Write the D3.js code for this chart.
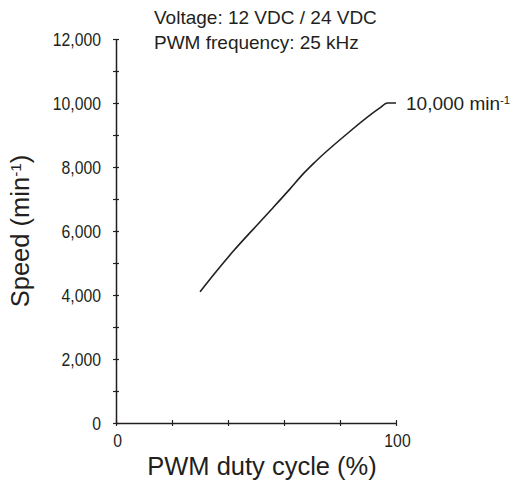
<!DOCTYPE html>
<html>
<head>
<meta charset="utf-8">
<script src="https://cdn.jsdelivr.net/npm/d3@7"></script>
<style>
  html, body { margin: 0; padding: 0; background: #fff; }
  .tick-label { font-family: "Liberation Sans", Arial, sans-serif; font-size: 19px; fill: #231f20; }
  .note { font-family: "Liberation Sans", Arial, sans-serif; font-size: 19px; fill: #231f20; }
  .axis-title { font-family: "Liberation Sans", Arial, sans-serif; font-size: 25.5px; fill: #231f20; }
</style>
</head>
<body>
<div id="chart"></div>
<script>
// Данные кривой: скважность ШИМ (%) -> скорость (min-1)
const dutyCycle = [30, 35, 42, 50, 56, 62, 67, 71, 82, 94, 97, 100];
const speed = [4100, 4650, 5380, 6150, 6720, 7300, 7800, 8150, 9000, 9830, 10000, 10000];

// Деления осей
const xTicks = [0, 20, 40, 60, 80, 100];
const xTickLabels = ['0', '', '', '', '', '100'];
const yTicks = [0, 1000, 2000, 3000, 4000, 5000, 6000, 7000, 8000, 9000, 10000, 11000, 12000];
const yTickLabels = ['0', '', '2,000', '', '4,000', '', '6,000', '', '8,000', '', '10,000', '', '12,000'];

const notes = ['Voltage: 12 VDC / 24 VDC', 'PWM frequency: 25 kHz'];
const endLabel = { value: 10000, text: '10,000 min', sup: '-1' };

const width = 518;
const height = 494;
const ink = '#231f20';
// узкий шрифт подписей делений имитируем сжатием по горизонтали
const narrow = 0.83;

const x = d3.scaleLinear().domain([0, 100]).range([116, 396]);
const y = d3.scaleLinear().domain([0, 12000]).range([423, 39]);

const svg = d3.select('#chart')
  .append('svg')
  .attr('width', width)
  .attr('height', height);

// Ось Y
const yAxis = svg.append('g')
  .attr('transform', `translate(${x(0)},0)`)
  .call(d3.axisLeft(y)
    .tickValues(yTicks)
    .tickSizeInner(3)
    .tickSizeOuter(0)
    .tickFormat((d, i) => yTickLabels[i]));
yAxis.select('.domain').attr('stroke', ink).attr('stroke-width', 1.5);
yAxis.selectAll('.tick line').attr('stroke', ink).attr('stroke-width', 1.2).attr('x1', 3);
yAxis.selectAll('.tick text')
  .attr('class', 'tick-label')
  .attr('x', 0)
  .attr('transform', `translate(-15,0) scale(${narrow},1)`);
yAxis.attr('font-size', null).attr('font-family', null);

// Ось X
const xAxis = svg.append('g')
  .attr('transform', `translate(0,${y(0)})`)
  .call(d3.axisBottom(x)
    .tickValues(xTicks)
    .tickSizeInner(3)
    .tickSizeOuter(0)
    .tickPadding(8)
    .tickFormat((d, i) => xTickLabels[i]));
xAxis.select('.domain').attr('stroke', ink).attr('stroke-width', 1.5);
xAxis.selectAll('.tick line').attr('stroke', ink).attr('stroke-width', 1.2).attr('y1', -3);
xAxis.selectAll('.tick text')
  .attr('class', 'tick-label')
  .attr('transform', `translate(1,0) scale(${narrow},1)`);
xAxis.attr('font-size', null).attr('font-family', null);

// Кривая
const points = dutyCycle.map((d, i) => [d, speed[i]]);
svg.append('path')
  .datum(points)
  .attr('fill', 'none')
  .attr('stroke', ink)
  .attr('stroke-width', 1.6)
  .attr('stroke-linejoin', 'round')
  .attr('d', d3.line()
    .curve(d3.curveMonotoneX)
    .x((d) => x(d[0]))
    .y((d) => y(d[1])));

// Подпись конца кривой
const endText = svg.append('text')
  .attr('class', 'note')
  .attr('x', x(100) + 10)
  .attr('y', y(endLabel.value) + 7)
  .text(endLabel.text);
endText.append('tspan')
  .attr('dy', '-0.55em')
  .attr('font-size', '0.6em')
  .text(endLabel.sup);

// Условия измерения
svg.selectAll('.cond')
  .data(notes)
  .enter()
  .append('text')
  .attr('class', 'note cond')
  .attr('x', 154)
  .attr('y', (d, i) => 24 + i * 25)
  .text((d) => d);

// Подписи осей
svg.append('text')
  .attr('class', 'axis-title')
  .attr('text-anchor', 'middle')
  .attr('x', 262)
  .attr('y', 475)
  .text('PWM duty cycle (%)');

const yTitle = svg.append('text')
  .attr('class', 'axis-title')
  .attr('text-anchor', 'middle')
  .attr('transform', `translate(29,${(y(0) + y(12000)) / 2}) rotate(-90)`);
yTitle.append('tspan').text('Speed (min');
yTitle.append('tspan').attr('dy', '-0.55em').attr('font-size', '0.6em').text('-1');
yTitle.append('tspan').attr('dy', '0.33em').text(')');
</script>
</body>
</html>
